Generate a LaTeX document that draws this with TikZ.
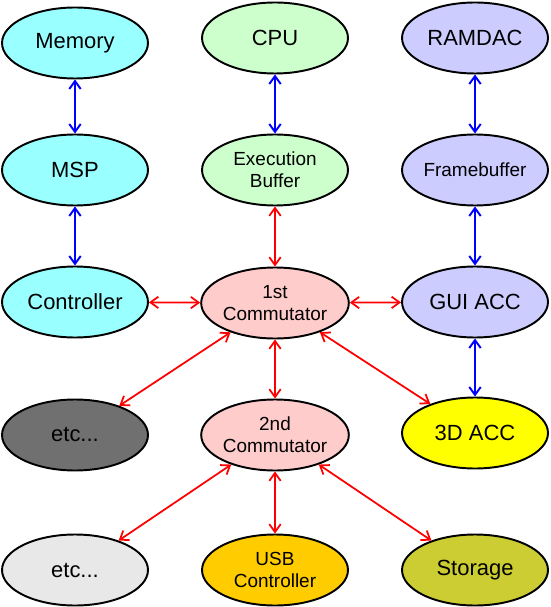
\documentclass[tikz,border=0pt]{standalone}
\usepackage{fontspec}
\setmainfont{Liberation Sans}
\usetikzlibrary{shapes.geometric,arrows.meta}
\definecolor{memcyan}{RGB}{153,255,255}
\definecolor{cpugreen}{RGB}{204,255,204}
\definecolor{gfxblue}{RGB}{204,204,255}
\definecolor{compink}{RGB}{255,204,204}
\definecolor{etcdark}{RGB}{112,112,112}
\definecolor{etclight}{RGB}{232,232,232}
\definecolor{accyellow}{RGB}{255,255,0}
\definecolor{usborange}{RGB}{255,204,0}
\definecolor{storolive}{RGB}{204,204,51}
\begin{document}
\begin{tikzpicture}[x=0.02cm,y=-0.02cm,
  unit/.style={ellipse,draw=black,line width=1.1pt,minimum width=2.92cm,minimum height=1.42cm,inner sep=0pt,align=center,font=\fontsize{12.5}{14.5}\selectfont},
  small/.style={font=\fontsize{10.8}{12.6}\selectfont},
  bus/.style={blue,line width=1.1pt,{Straight Barb[length=4.5pt,width=6.5pt]}-{Straight Barb[length=4.5pt,width=6.5pt]}},
  link/.style={red,line width=1pt,{Straight Barb[length=4.5pt,width=6.5pt]}-{Straight Barb[length=4.5pt,width=6.5pt]}}]
\useasboundingbox (0,0) rectangle (550,607);

\node[unit,fill=memcyan] (memory) at (75,43) {Memory};
\node[unit,fill=memcyan] (msp) at (75,170) {MSP};
\node[unit,fill=memcyan] (ctrl) at (75,302) {Controller};

\node[unit,fill=cpugreen] (cpu) at (275,38) {CPU};
\node[unit,small,fill=cpugreen] (exbuf) at (275,170) {Execution\\Buffer};
\node[unit,small,fill=compink] (com1) at (275,303) {1st\\Commutator};
\node[unit,small,fill=compink] (com2) at (275,435) {2nd\\Commutator};
\node[unit,small,fill=usborange] (usb) at (275,570) {USB\\Controller};

\node[unit,fill=gfxblue] (ramdac) at (475,38) {RAMDAC};
\node[unit,small,fill=gfxblue] (fbuf) at (475,170) {Framebuffer};
\node[unit,fill=gfxblue] (gui) at (475,302) {GUI ACC};
\node[unit,fill=accyellow] (acc3d) at (475,433) {3D ACC};
\node[unit,fill=storolive] (storage) at (475,570) {Storage};

\node[unit,fill=etcdark] (etc1) at (75,435) {etc...};
\node[unit,fill=etclight] (etc2) at (75,570) {etc...};

\draw[bus] (memory) -- (msp);
\draw[bus] (msp) -- (ctrl);
\draw[bus] (cpu) -- (exbuf);
\draw[bus] (ramdac) -- (fbuf);
\draw[bus] (fbuf) -- (gui);
\draw[bus] (gui) -- (acc3d);

\draw[link] (exbuf) -- (com1);
\draw[link] (ctrl) -- (com1);
\draw[link] (com1) -- (gui);
\draw[link] (com1) -- (etc1);
\draw[link] (com1) -- (com2);
\draw[link] (com1) -- (acc3d);
\draw[link] (com2) -- (etc2);
\draw[link] (com2) -- (usb);
\draw[link] (com2) -- (storage);
\end{tikzpicture}
\end{document}
